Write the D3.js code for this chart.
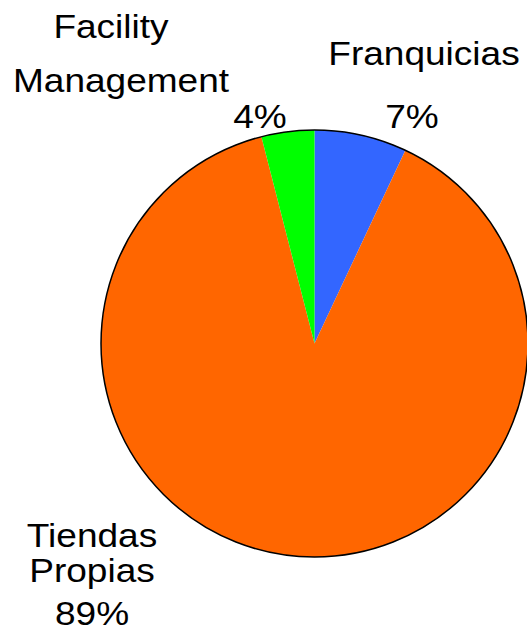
<!DOCTYPE html>
<html>
<head>
<meta charset="utf-8">
<script src="https://cdn.jsdelivr.net/npm/d3@7"></script>
<style>
  body { margin: 0; background: #fff; }
  text { font-family: "Liberation Sans", Arial, sans-serif; fill: #000; }
</style>
</head>
<body>
<svg width="527" height="637"></svg>
<script>
// data
var categories = ["Franquicias", "Tiendas Propias", "Facility Management"];
var values = [7, 89, 4];
var percentLabels = ["7%", "89%", "4%"];
var colors = ["#3366ff", "#ff6600", "#00ff00"];

var svg = d3.select("svg"),
    cx = 314.5,
    cy = 343.5,
    radius = 213.5,
    g = svg.append("g").attr("transform", "translate(" + cx + "," + cy + ")");

var pie = d3.pie().sort(null).value(function(d) { return d; });
var arc = d3.arc().innerRadius(0).outerRadius(radius);
var arcs = pie(values);

g.selectAll("path.slice")
  .data(arcs)
  .enter().append("path")
  .attr("class", "slice")
  .attr("d", arc)
  .attr("fill", function(d, i) { return colors[i]; });

// outline only on the rim
g.append("circle")
  .attr("r", radius)
  .attr("fill", "none")
  .attr("stroke", "#000")
  .attr("stroke-width", 1.5);

// label lines per slice (name lines + percent), absolute positions
var labelLines = [
  [{t: categories[0], x: 424, y: 65}, {t: percentLabels[0], x: 412, y: 128}],
  [{t: "Tiendas", x: 92, y: 547}, {t: "Propias", x: 92, y: 582}, {t: percentLabels[1], x: 92, y: 625}],
  [{t: "Facility", x: 111, y: 38}, {t: "Management", x: 121, y: 92}, {t: percentLabels[2], x: 260, y: 128}]
];

var labels = svg.append("g");
labelLines.forEach(function(lines) {
  lines.forEach(function(l) {
    labels.append("text")
      .attr("text-anchor", "middle")
      .attr("font-size", 32.5)
      .attr("transform", "translate(" + l.x + "," + l.y + ") scale(1.14,1)")
      .text(l.t);
  });
});
</script>
</body>
</html>
